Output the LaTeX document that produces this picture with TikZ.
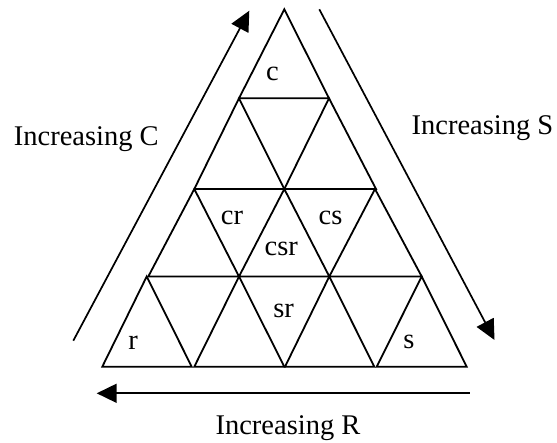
\documentclass[tikz,border=0pt]{standalone}
\usepackage{fontspec}
\setmainfont{Liberation Serif}
\usetikzlibrary{arrows.meta}
\tikzset{
  tri/.style={draw, line width=1.8pt, line join=miter},
  lbl/.style={font=\fontsize{28.5}{34}\selectfont, anchor=base, inner sep=0pt},
  arr/.style={line width=1.7pt, -{Triangle[length=20pt,width=19pt]}}
}
\begin{document}
\begin{tikzpicture}[x=1pt,y=-1pt]
\useasboundingbox (0,0) rectangle (557,443);
% row 1
\draw[tri] (239,98.3)--(284.3,9.3)--(329,98.3)--cycle;
% row 2
\draw[tri] (194.3,189)--(239,98.3)--(284.3,189)--cycle;
\draw[tri] (284.3,189)--(329,98.3)--(376,189)--cycle;
% row 3
\draw[tri] (148.3,276.5)--(194.3,189)--(239,276.5)--cycle;
\draw[tri] (239,276.5)--(284.3,189)--(329.3,276.5)--cycle;
\draw[tri] (329.3,276.5)--(375,189)--(421.7,276.5)--cycle;
% row 4
\draw[tri] (102.3,366.7)--(146.7,276.5)--(191.7,366.7)--cycle;
\draw[tri] (194.3,366.7)--(239,276.5)--(284.3,366.7)--cycle;
\draw[tri] (285,366.7)--(329.3,276.5)--(374.3,366.7)--cycle;
\draw[tri] (376.7,366.7)--(421.7,276.5)--(466.7,366.7)--cycle;
% labels
\node[lbl] (lc)   at (272.5,81)    {c};
\node[lbl] (lcr)  at (232,225)     {cr};
\node[lbl] (lcs)  at (330.5,225)   {cs};
\node[lbl] (lcsr) at (281.3,256)   {csr};
\node[lbl] (lsr)  at (283.7,317.3) {sr};
\node[lbl] (lr)   at (133,349.3)   {r};
\node[lbl] (ls)   at (409,348.3)   {s};
% axis labels
\node[lbl] (incC) at (86.3,146)  {Increasing C};
\node[lbl] (incS) at (482.5,134.3) {Increasing S};
\node[lbl] (incR) at (288,435)   {Increasing R};
% arrows
\coordinate (cA) at (73.3,340.7);
\coordinate (cB) at (249.3,10.7);
\coordinate (sA) at (319.3,9.3);
\coordinate (sB) at (494.5,340);
\coordinate (rA) at (469.5,393.3);
\coordinate (rB) at (96.7,393.3);
\draw[arr] (cA) -- (cB);
\draw[arr] (sA) -- (sB);
\draw[arr] (rA) -- (rB);
\end{tikzpicture}
\end{document}
